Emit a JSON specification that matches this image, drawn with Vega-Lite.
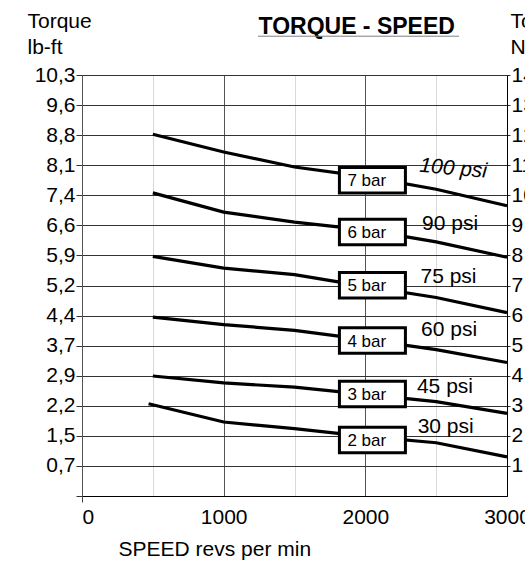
{
  "$schema": "https://vega.github.io/schema/vega-lite/v6.json",
  "autosize": {"type": "none"},
  "width": 425,
  "height": 421,
  "padding": {"left": 82, "top": 75, "right": 18, "bottom": 68},
  "background": "white",
  "config": {
    "font": "Liberation Sans",
    "view": {"stroke": null},
    "axis": {"labelFont": "Liberation Sans", "titleFont": "Liberation Sans", "labelColor": "black", "titleColor": "black", "titleFontWeight": "normal"},
    "text": {"font": "Liberation Sans", "color": "black"}
  },
  "datasets": {
    "curves": [
      {"series": "7 bar", "rpm": 500, "nm": 12.03},
      {"series": "7 bar", "rpm": 1000, "nm": 11.44},
      {"series": "7 bar", "rpm": 1500, "nm": 10.94},
      {"series": "7 bar", "rpm": 2000, "nm": 10.62},
      {"series": "7 bar", "rpm": 2500, "nm": 10.2},
      {"series": "7 bar", "rpm": 3000, "nm": 9.65},
      {"series": "6 bar", "rpm": 500, "nm": 10.08},
      {"series": "6 bar", "rpm": 1000, "nm": 9.44},
      {"series": "6 bar", "rpm": 1500, "nm": 9.11},
      {"series": "6 bar", "rpm": 2000, "nm": 8.85},
      {"series": "6 bar", "rpm": 2500, "nm": 8.45},
      {"series": "6 bar", "rpm": 3000, "nm": 7.94},
      {"series": "5 bar", "rpm": 500, "nm": 7.97},
      {"series": "5 bar", "rpm": 1000, "nm": 7.58},
      {"series": "5 bar", "rpm": 1500, "nm": 7.36},
      {"series": "5 bar", "rpm": 2000, "nm": 6.97},
      {"series": "5 bar", "rpm": 2500, "nm": 6.6},
      {"series": "5 bar", "rpm": 3000, "nm": 6.1},
      {"series": "4 bar", "rpm": 500, "nm": 5.95},
      {"series": "4 bar", "rpm": 1000, "nm": 5.7},
      {"series": "4 bar", "rpm": 1500, "nm": 5.51},
      {"series": "4 bar", "rpm": 2000, "nm": 5.2},
      {"series": "4 bar", "rpm": 2500, "nm": 4.87},
      {"series": "4 bar", "rpm": 3000, "nm": 4.44},
      {"series": "3 bar", "rpm": 500, "nm": 3.99},
      {"series": "3 bar", "rpm": 1000, "nm": 3.76},
      {"series": "3 bar", "rpm": 1500, "nm": 3.62},
      {"series": "3 bar", "rpm": 2000, "nm": 3.38},
      {"series": "3 bar", "rpm": 2500, "nm": 3.14},
      {"series": "3 bar", "rpm": 3000, "nm": 2.75},
      {"series": "2 bar", "rpm": 470, "nm": 3.07},
      {"series": "2 bar", "rpm": 1000, "nm": 2.46},
      {"series": "2 bar", "rpm": 1500, "nm": 2.24},
      {"series": "2 bar", "rpm": 2000, "nm": 1.98},
      {"series": "2 bar", "rpm": 2500, "nm": 1.77},
      {"series": "2 bar", "rpm": 3000, "nm": 1.3}
    ],
    "labels": [
      {"series": "7 bar", "psi": "100 psi", "box_rpm": 2050, "box_nm": 10.5, "psi_rpm": 2620, "psi_nm": 10.88},
      {"series": "6 bar", "psi": "90 psi", "box_rpm": 2050, "box_nm": 8.78, "psi_rpm": 2598, "psi_nm": 9.05},
      {"series": "5 bar", "psi": "75 psi", "box_rpm": 2050, "box_nm": 7.01, "psi_rpm": 2587, "psi_nm": 7.28},
      {"series": "4 bar", "psi": "60 psi", "box_rpm": 2050, "box_nm": 5.17, "psi_rpm": 2591, "psi_nm": 5.52},
      {"series": "3 bar", "psi": "45 psi", "box_rpm": 2050, "box_nm": 3.39, "psi_rpm": 2562, "psi_nm": 3.63},
      {"series": "2 bar", "psi": "30 psi", "box_rpm": 2050, "box_nm": 1.86, "psi_rpm": 2567, "psi_nm": 2.29}
    ]
  },
  "resolve": {"axis": {"x": "independent", "y": "independent"}},
  "layer": [
    {
      "data": {"name": "curves"},
      "mark": {"type": "line", "color": "black", "strokeWidth": 3.2, "interpolate": "linear"},
      "encoding": {
        "x": {
          "field": "rpm", "type": "quantitative",
          "scale": {"domain": [0, 3000], "nice": false, "zero": false},
          "axis": {
            "orient": "bottom",
            "values": [0, 500, 1000, 1500, 2000, 2500, 3000],
            "format": "d",
            "labelExpr": "datum.value % 1000 === 0 ? datum.label : ''",
            "labelAlign": {"condition": {"test": "datum.value === 0", "value": "left"}, "value": "center"},
            "labelFlush": false,
            "labelOverlap": false,
            "labelFontSize": 21,
            "labelPadding": 4,
            "grid": true,
            "gridColor": {"condition": {"test": "datum.value % 1000 === 0", "value": "#555555"}, "value": "#d9d9d9"},
            "gridWidth": 1,
            "tickSize": 6,
            "tickColor": {"condition": {"test": "datum.value === 0", "value": "#444444"}, "value": "transparent"},
            "domainColor": "black",
            "domainWidth": 1,
            "title": "SPEED revs per min",
            "titleFontSize": 21,
            "titleAlign": "left",
            "titleBaseline": "alphabetic",
            "titleX": 36,
            "titleY": 59
          }
        },
        "y": {
          "field": "nm", "type": "quantitative",
          "scale": {"domain": [0, 14], "nice": false},
          "axis": {
            "orient": "left",
            "values": [0, 1, 2, 3, 4, 5, 6, 7, 8, 9, 10, 11, 12, 13, 14],
            "labelExpr": "['','0,7','1,5','2,2','2,9','3,7','4,4','5,2','5,9','6,6','7,4','8,1','8,8','9,6','10,3'][datum.value]",
            "labelFlush": false,
            "labelOverlap": false,
            "labelFontSize": 21,
            "labelPadding": 1,
            "grid": true,
            "gridColor": "#333333",
            "gridWidth": 1,
            "tickSize": 6,
            "tickColor": "#333333",
            "domainColor": "#555555",
            "title": ["Torque", "lb-ft"],
            "titleFontSize": 21,
            "titleAngle": 0,
            "titleAlign": "left",
            "titleBaseline": "alphabetic",
            "titleLineHeight": 26,
            "titleX": -55,
            "titleY": -48
          }
        },
        "detail": {"field": "series"}
      }
    },
    {
      "data": {"name": "labels"},
      "mark": {"type": "point", "shape": "M-1,-0.385L1,-0.385L1,0.385L-1,0.385Z", "size": 4356, "filled": false, "fill": "white", "fillOpacity": 1, "stroke": "black", "strokeWidth": 3, "opacity": 1},
      "encoding": {
        "x": {
          "field": "box_rpm", "type": "quantitative",
          "scale": {"domain": [0, 3000], "nice": false, "zero": false},
          "axis": {
            "orient": "top",
            "labels": false, "ticks": false, "domain": false, "grid": false,
            "title": "TORQUE - SPEED",
            "titleFontSize": 23,
            "titleFontWeight": "bold",
            "titleAlign": "left",
            "titleBaseline": "alphabetic",
            "titleX": 176,
            "titleY": -42
          }
        },
        "y": {
          "field": "box_nm", "type": "quantitative",
          "scale": {"domain": [0, 14], "nice": false},
          "axis": {
            "orient": "right",
            "values": [1, 2, 3, 4, 5, 6, 7, 8, 9, 10, 11, 12, 13, 14],
            "format": "d",
            "labelFlush": false,
            "labelOverlap": false,
            "labelFontSize": 21,
            "labelPadding": 1,
            "grid": false,
            "tickSize": 3,
            "tickColor": "#333333",
            "domainColor": "black",
            "title": ["Torque", "Nm"],
            "titleFontSize": 21,
            "titleAngle": 0,
            "titleAlign": "left",
            "titleBaseline": "alphabetic",
            "titleLineHeight": 26,
            "titleX": 3,
            "titleY": -48
          }
        }
      }
    },
    {
      "data": {"name": "labels"},
      "mark": {"type": "text", "fontSize": 17, "align": "left", "baseline": "middle", "dx": -25, "dy": 1},
      "encoding": {
        "x": {"field": "box_rpm", "type": "quantitative", "scale": {"domain": [0, 3000]}, "axis": null},
        "y": {"field": "box_nm", "type": "quantitative", "scale": {"domain": [0, 14]}, "axis": null},
        "text": {"field": "series"}
      }
    },
    {
      "data": {"name": "labels"},
      "transform": [{"filter": "datum.series !== '7 bar'"}],
      "mark": {"type": "text", "fontSize": 21, "align": "center", "baseline": "middle"},
      "encoding": {
        "x": {"field": "psi_rpm", "type": "quantitative", "scale": {"domain": [0, 3000]}, "axis": null},
        "y": {"field": "psi_nm", "type": "quantitative", "scale": {"domain": [0, 14]}, "axis": null},
        "text": {"field": "psi"}
      }
    },
    {
      "data": {"name": "labels"},
      "transform": [{"filter": "datum.series === '7 bar'"}],
      "mark": {"type": "text", "fontSize": 21, "fontStyle": "italic", "align": "center", "baseline": "middle", "angle": 5},
      "encoding": {
        "x": {"field": "psi_rpm", "type": "quantitative", "scale": {"domain": [0, 3000]}, "axis": null},
        "y": {"field": "psi_nm", "type": "quantitative", "scale": {"domain": [0, 14]}, "axis": null},
        "text": {"field": "psi"}
      }
    },
    {
      "data": {"values": [{}]},
      "mark": {"type": "rule", "color": "#808080", "strokeWidth": 1},
      "encoding": {
        "x": {"datum": 1242, "type": "quantitative", "scale": {"domain": [0, 3000]}, "axis": null},
        "x2": {"datum": 2661},
        "y": {"datum": 15.29, "type": "quantitative", "scale": {"domain": [0, 14]}, "axis": null}
      }
    }
  ]
}
